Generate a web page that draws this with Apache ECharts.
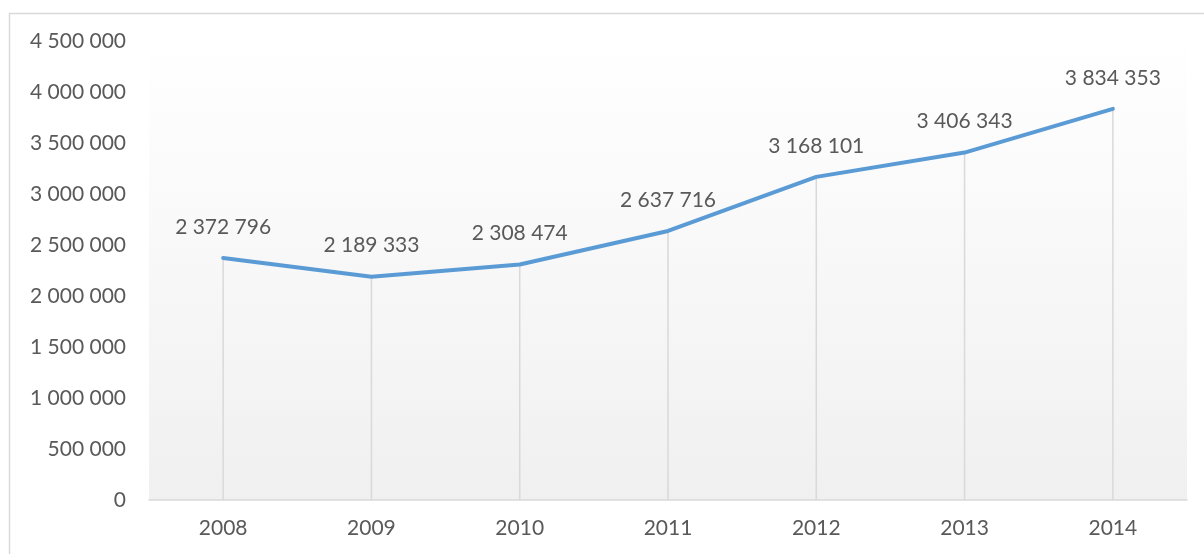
<!DOCTYPE html>
<html>
<head>
<meta charset="utf-8">
<script src="https://cdn.jsdelivr.net/npm/echarts@6/dist/echarts.min.js"></script>
<style>
html,body{margin:0;padding:0;background:#fff;}
#c{width:1204px;height:554px;}
</style>
</head>
<body>
<div id="c"></div>
<script>
const categories = ['2008','2009','2010','2011','2012','2013','2014'];
const values = [2372796, 2189333, 2308474, 2637716, 3168101, 3406343, 3834353];
const yTicks = [0, 500000, 1000000, 1500000, 2000000, 2500000, 3000000, 3500000, 4000000, 4500000];

function fmt(v){ return String(v).replace(/\B(?=(\d{3})+(?!\d))/g, ' '); }

const chart = echarts.init(document.getElementById('c'), null, {renderer:'canvas'});
const font = 'Lato, Carlito, Calibri, sans-serif';
chart.setOption({
  animation: false,
  backgroundColor: '#ffffff',
  graphic: [{
    type: 'rect', silent: true, z: -10,
    shape: {x: 9.5, y: 13.5, width: 1220, height: 600},
    style: {fill: 'none', stroke: '#d9d9d9', lineWidth: 1.5}
  }],
  grid: {
    left: 149, right: 17, top: 41, bottom: 54, show: true, borderWidth: 0,
    backgroundColor: new echarts.graphic.LinearGradient(0,0,0,1,[
      {offset:0,color:'#ffffff'},{offset:1,color:'#f0f0f0'}
    ])
  },
  xAxis: {
    type: 'category', data: categories, boundaryGap: true,
    axisLine: {show: true, lineStyle: {color: '#d9d9d9', width: 1.5}},
    axisTick: {show: false},
    axisLabel: {color: '#595959', fontFamily: font, fontSize: 21, margin: 18}
  },
  yAxis: {
    type: 'value', min: yTicks[0], max: yTicks[yTicks.length-1], interval: yTicks[1]-yTicks[0],
    axisLine: {show: false}, axisTick: {show: false},
    splitLine: {show: false},
    axisLabel: {color: '#595959', fontFamily: font, fontSize: 21, margin: 23, formatter: v => fmt(v)}
  },
  series: [{
    type: 'bar', data: values, barWidth: 1.5, silent: true,
    itemStyle: {color: '#d9d9d9'}, z: 1
  },{
    type: 'line', data: values, symbol: 'circle', symbolSize: 1, showSymbol: true, z: 3,
    itemStyle: {color: '#5b9bd5'},
    lineStyle: {color: '#5b9bd5', width: 4, cap: 'round', join: 'round'},
    label: {show: true, position: 'top', distance: 20, color: '#595959', fontFamily: font, fontSize: 21,
      formatter: p => fmt(p.value)}
  }]
});
</script>
</body>
</html>
